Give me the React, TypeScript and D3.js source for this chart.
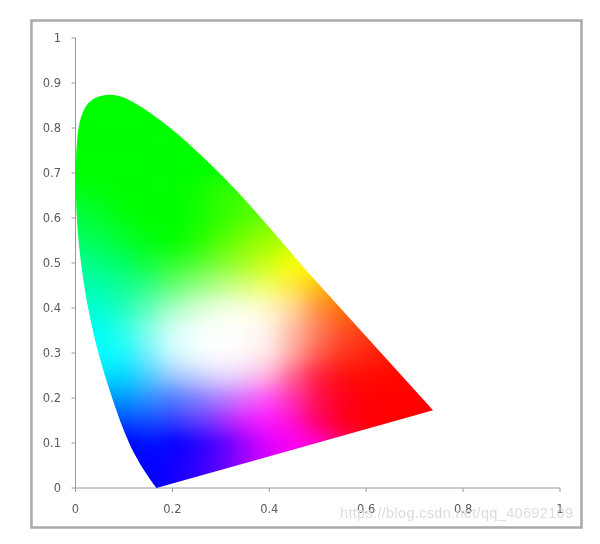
import React from "react";
import * as d3 from "d3";

const W = 600, H = 544;
const xTicks = [0, 0.2, 0.4, 0.6, 0.8, 1];
const yTicks = [0, 0.1, 0.2, 0.3, 0.4, 0.5, 0.6, 0.7, 0.8, 0.9, 1];
const watermark = "https://blog.csdn.net/qq_40692109";

// Spectral locus: [x, y]
const locus: [number, number][] = [
  [0.167, 0], [0.142, 0.037], [0.108, 0.1], [0.075, 0.2], [0.046, 0.3], [0.025, 0.4], [0.012, 0.49],
  [0.005, 0.56], [0.001, 0.63], [0.0, 0.7067], [0.0025, 0.7733], [0.0093, 0.8251], [0.0258, 0.8584], [0.045, 0.87], [0.0695, 0.8755], [0.095, 0.871],
  [0.1263, 0.8549], [0.195, 0.8029], [0.2632, 0.7362], [0.3327, 0.6622], [0.4014, 0.5778], [0.4695, 0.4918],
];
const redTip: [number, number] = [0.738, 0.173];

// Colour samples, columns x = 0, 0.05 ... 0.75
const gridX = d3.range(16).map((i) => i * 0.05);
const gridY = [0.9, 0.85, 0.8, 0.75, 0.7, 0.65, 0.6, 0.55, 0.5, 0.45, 0.4, 0.35, 0.3, 0.25, 0.2, 0.15, 0.1, 0.05, 0];
const row90 = "00ff00 00ff00 00ff00 00ff00 00ff00 00ff00 00ff00 00ff00 00ff00 00ff00 00ff00 00ff00 00ff00 00ff00 00ff00 00ff00";
const row70 = "00ff00 00ff00 00ff00 00ff00 00ff00 00ff00 10ff00 20ff00 30ff00 40ff00 40ff00 40ff00 40ff00 40ff00 40ff00 40ff00";
const row65 = "00ff20 00ff10 00ff00 00ff00 00ff00 10ff00 30ff00 40ff00 60ff00 60ff00 60ff00 60ff00 60ff00 60ff00 60ff00 60ff00";
const row60 = "00ff40 00ff30 00ff10 00ff00 00ff00 10ff00 30ff00 50ff00 70ff00 80ff00 80ff00 80ff00 80ff00 80ff00 80ff00 80ff00";
const row55 = "00ff60 00ff50 00ff30 00ff10 00ff00 20ff00 50ff00 80ff00 a0ff00 c0ff00 c0ff00 c0ff00 c0ff00 c0ff00 c0ff00 c0ff00";
const row50 = "00ff90 00ff80 00ff60 10ff40 30ff30 50ff30 80ff30 a8ff20 d0ff10 ffff00 ffff00 ffe000 ffe000 ffe000 ffe000 ffe000";
const row45 = "00ffb0 00ffa8 10ff90 30ff80 60ff70 90ff80 b8ff88 d8ff78 f4ff60 ffe840 ffc010 ffa000 ffa000 ffa000 ffa000 ffa000";
const row40 = "00ffd0 00ffd0 20ffc0 60ffb8 a8ffc8 d4ffd4 f0ffe4 fcffe0 fff8c8 ffd898 ff9040 ff7000 ff6000 ff6000 ff6000 ff6000";
const row35 = "00ffff 00fff0 30ffe8 88ffe8 d4fff8 f4fffc ffffff fffffc fff0e8 ffb8a0 ff8060 ff5028 ff4010 ff3800 ff3800 ff3800";
const row30 = "00ffff 00ffff 20f8ff 78f0ff d0fcff f4ffff ffffff fff8f8 ffe8e8 ffa8a0 ff6050 ff3820 ff2410 ff1800 ff1800 ff1800";
const row25 = "00e0ff 00e0ff 00d8ff 50d0ff a0ccff c8d4ff e4dcff f4d0f8 ffb0d8 ff6090 ff2040 ff1010 ff0c00 ff0800 ff0800 ff0800";
const row20 = "0090ff 0090ff 00a0ff 3090ff 5080ff 8080ff b080ff e070ff ff50f4 ff30a8 ff1050 ff0020 ff0008 ff0000 ff0000 ff0000";
const row15 = "0040ff 0040ff 0050ff 1050ff 3040ff 6040ff 9830ff e020ff ff18ff ff10d0 ff0060 ff0020 ff0000 ff0000 ff0000 ff0000";
const row10 = "0000ff 0000ff 0000ff 0010ff 0000ff 2000ff 5000ff a000ff e000ff ff00f0 ff00d0 ff0070 ff0030 ff0010 ff0000 ff0000";
const row05 = "0000ff 0000ff 0000ff 0000ff 1000ff 3000ff 6000ff a000ff d800ff f000ff ff00d8 ff0080 ff0040 ff0010 ff0000 ff0000";
const colorRows = [row90, row90, row90, row90, row70, row65, row60, row55, row50, row45, row40, row35, row30, row25, row20, row15, row10, row05, row05];

const x = d3.scaleLinear().domain([0, 1]).range([75.5, 560]);
const y = d3.scaleLinear().domain([0, 1]).range([488, 38]);

export default function App() {
  const curve = d3.line<[number, number]>().x((d) => x(d[0])).y((d) => y(d[1])).curve(d3.curveBasis)(locus)!;
  const outline = `${curve}L${x(redTip[0])},${y(redTip[1])}Z`;
  const cw = x(0.05) - x(0);
  const ch = y(0) - y(0.05);
  const grey = "#9a9a9a";
  const textFill = "#5c5c5c";
  return (
    <svg width={W} height={H} viewBox={`0 0 ${W} ${H}`} style={{ position: "absolute", left: 0, top: 0, background: "#fff" }}>
      <defs>
        <clipPath id="locus"><path d={outline} /></clipPath>
        <filter id="field" x="-20%" y="-20%" width="140%" height="140%" colorInterpolationFilters="sRGB">
          <feGaussianBlur stdDeviation="9.5" />
        </filter>
        <filter id="soft" x="-5%" y="-5%" width="110%" height="110%" colorInterpolationFilters="sRGB">
          <feGaussianBlur stdDeviation="0.7" />
        </filter>
        <filter id="txt" x="-20%" y="-20%" width="140%" height="140%">
          <feGaussianBlur stdDeviation="0.4" />
        </filter>
      </defs>
      <rect x={31.5} y={20.5} width={550} height={507} fill="#fff" stroke="#a9a9a9" strokeWidth={2.5} />

      <g stroke={grey} strokeWidth={1} fill="none">
        <line x1={x(0)} x2={x(1)} y1={y(0)} y2={y(0)} />
        <line x1={x(0)} x2={x(0)} y1={y(0)} y2={y(1)} />
        {xTicks.map((t) => <line key={t} x1={x(t)} x2={x(t)} y1={y(0)} y2={y(0) + 4} />)}
        {yTicks.map((t) => <line key={t} x1={x(0) - 4} x2={x(0)} y1={y(t)} y2={y(t)} />)}
      </g>

      <g filter="url(#soft)">
        <g clipPath="url(#locus)">
          <g filter="url(#field)">
            {colorRows.map((row, r) =>
              row.split(" ").map((c, i) => {
                const left = i === 0 ? x(gridX[i]) - 3 * cw : x(gridX[i]) - cw / 2;
                const right = i === gridX.length - 1 ? x(gridX[i]) + 3 * cw : x(gridX[i]) + cw / 2 + 0.5;
                const top = r === 0 ? y(gridY[r]) - 3 * ch : y(gridY[r]) - ch / 2;
                const bottom = r === colorRows.length - 1 ? y(gridY[r]) + 3 * ch : y(gridY[r]) + ch / 2 + 0.5;
                return <rect key={`${r}-${i}`} x={left} y={top} width={right - left} height={bottom - top} fill={`#${c}`} />;
              })
            )}
          </g>
        </g>
      </g>

      <g filter="url(#txt)" fontFamily="'DejaVu Sans', sans-serif" fontSize={11.5} fill={textFill}>
        {yTicks.map((t) => (
          <text key={t} x={61} y={y(t)} dy="0.36em" textAnchor="end">{String(t)}</text>
        ))}
        {xTicks.map((t) => (
          <text key={t} x={x(t)} y={512.5} textAnchor="middle">{String(t)}</text>
        ))}
      </g>
      <text filter="url(#txt)" x={340} y={517.5} fontFamily="'Liberation Sans', sans-serif" fontSize={14.5} fill="#dcdcdc" textLength={233}>{watermark}</text>
    </svg>
  );
}
